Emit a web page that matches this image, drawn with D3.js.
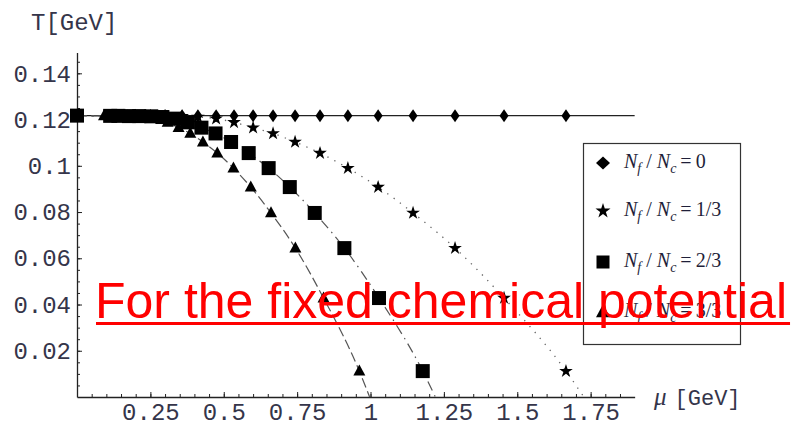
<!DOCTYPE html>
<html>
<head>
<meta charset="utf-8">
<script src="https://cdn.jsdelivr.net/npm/d3@7"></script>
<style>
  body { margin: 0; background: #fff; }
</style>
</head>
<body>
<div id="chart"></div>
<script>
// setting up svg
var svgWidth = 796;
var svgHeight = 421;

// chemical potential values [GeV], one list per series
var muDiamond  = [0, 0.160, 0.200, 0.250, 0.300, 0.358, 0.412, 0.474, 0.535, 0.600, 0.668, 0.743, 0.828, 0.923, 1.026, 1.145, 1.288, 1.455, 1.666];
var muStar     = [0, 0.160, 0.200, 0.250, 0.300, 0.358, 0.412, 0.474, 0.535, 0.600, 0.668, 0.743, 0.828, 0.923, 1.026, 1.145, 1.288, 1.455, 1.666];
var muSquare   = [0, 0.113, 0.141, 0.177, 0.212, 0.253, 0.291, 0.335, 0.378, 0.424, 0.472, 0.525, 0.585, 0.653, 0.725, 0.810, 0.911, 1.029, 1.178];
var muTriangle = [0, 0.092, 0.115, 0.144, 0.173, 0.207, 0.238, 0.274, 0.309, 0.346, 0.386, 0.429, 0.478, 0.533, 0.592, 0.661, 0.744, 0.840, 0.962];

// temperatures [GeV]; the three falling curves sit at the same heights
var tDiamond  = 0.1217;
var tFalling  = [0.1217, 0.1216, 0.1216, 0.1215, 0.1215, 0.1214, 0.1211, 0.1204, 0.1188, 0.1165, 0.1140, 0.1103, 0.1055, 0.0990, 0.0908, 0.0796, 0.0644, 0.0428, 0.0112];

// where each fitted curve reaches T = 0
var muEndStar = 1.727;
var muEndSquare = 1.221;
var muEndTriangle = 0.997;

// axes
var muMax = 1.9;
var tMax = 0.149;
var xTicks = [0.25, 0.5, 0.75, 1, 1.25, 1.5, 1.75];
var yTicks = [0.02, 0.04, 0.06, 0.08, 0.1, 0.12, 0.14];

var legendLabels = ["0", "1/3", "2/3", "3/3"];

var svg = d3.select("#chart")
  .append("svg")
    .attr("width", svgWidth)
    .attr("height", svgHeight);

var x = d3.scaleLinear().domain([0, muMax]).range([77, 77 + muMax * 293.5]);
var y = d3.scaleLinear().domain([0, tMax]).range([397, 397 - tMax * 2312]);

var monoFont = "'Liberation Mono', 'DejaVu Sans Mono', monospace";
var serifFont = "'Liberation Serif', 'DejaVu Serif', serif";
var labelColor = "#35354a";

// minor ticks
var yMinor = d3.range(0.005, tMax, 0.005);
var xMinor = d3.range(0.05, muMax, 0.05);

svg.append("g")
    .attr("transform", `translate(${x(0)},0)`)
    .call(d3.axisLeft(y).tickValues(yMinor).tickSize(-3).tickSizeOuter(0).tickFormat(""))
    .call(g => g.select(".domain").remove())
    .selectAll("line").attr("stroke", "#222");

svg.append("g")
    .attr("transform", `translate(0,${y(0)})`)
    .call(d3.axisBottom(x).tickValues(xMinor).tickSize(-3).tickSizeOuter(0).tickFormat(""))
    .call(g => g.select(".domain").remove())
    .selectAll("line").attr("stroke", "#222");

// major axes
var leftAxisG = svg.append("g")
    .attr("transform", `translate(${x(0)},0)`)
    .call(d3.axisLeft(y).tickValues(yTicks).tickSize(-5).tickSizeOuter(0)
      .tickPadding(6).tickFormat(d3.format("~g")));

var bottomAxisG = svg.append("g")
    .attr("transform", `translate(0,${y(0)})`)
    .call(d3.axisBottom(x).tickValues(xTicks).tickSize(-5).tickSizeOuter(0)
      .tickPadding(6).tickFormat(d3.format("~g")));

[leftAxisG, bottomAxisG].forEach(g => {
  g.select(".domain").attr("stroke", "#222").attr("stroke-width", 1.3);
  g.selectAll("line").attr("stroke", "#222");
  g.selectAll("text")
    .attr("font-family", monoFont)
    .attr("font-size", 24)
    .attr("fill", labelColor);
});

// axis titles
svg.append("text")
    .attr("x", 31)
    .attr("y", 30)
    .attr("font-family", monoFont)
    .attr("font-size", 24)
    .attr("fill", labelColor)
    .text("T[GeV]");

var muLabel = svg.append("text")
    .attr("x", 654)
    .attr("y", 405)
    .attr("fill", labelColor);
muLabel.append("tspan")
    .attr("font-family", serifFont)
    .attr("font-style", "italic")
    .attr("font-size", 25)
    .text("\u03bc");
muLabel.append("tspan")
    .attr("font-family", monoFont)
    .attr("font-size", 22)
    .attr("dx", 8)
    .text("[GeV]");

// curves
var line = d3.line()
    .x(d => x(d[0]))
    .y(d => y(d[1]))
    .curve(d3.curveMonotoneX);

var starLine = muStar.map((m, i) => [m, tFalling[i]]).concat([[muEndStar, 0]]);
var squareLine = muSquare.map((m, i) => [m, tFalling[i]]).concat([[muEndSquare, 0]]);
var triangleLine = muTriangle.map((m, i) => [m, tFalling[i]]).concat([[muEndTriangle, 0]]);

svg.append("path")
    .datum([[0, tDiamond], [muMax, tDiamond]])
    .attr("d", line)
    .attr("fill", "none")
    .attr("stroke", "#222")
    .attr("stroke-width", 1.4);

svg.append("path")
    .datum(starLine)
    .attr("d", line)
    .attr("fill", "none")
    .attr("stroke", "#666")
    .attr("stroke-width", 1.3)
    .attr("stroke-dasharray", "1.3,6.5");

svg.append("path")
    .datum(squareLine)
    .attr("d", line)
    .attr("fill", "none")
    .attr("stroke", "#555")
    .attr("stroke-width", 1.2)
    .attr("stroke-dasharray", "10,5,1.5,5");

svg.append("path")
    .datum(triangleLine)
    .attr("d", line)
    .attr("fill", "none")
    .attr("stroke", "#555")
    .attr("stroke-width", 1.2)
    .attr("stroke-dasharray", "10,4");

// marker shapes
var diamondPath = (w, h) => `M0,${-h}L${w},0L0,${h}L${-w},0Z`;
var starPath = d3.symbol().type(d3.symbolStar).size(58)();
var trianglePath = (w, h) => `M0,${-h * 0.6}L${w},${h * 0.4}L${-w},${h * 0.4}Z`;

svg.append("g").selectAll("path")
  .data(muDiamond)
  .enter().append("path")
    .attr("transform", d => `translate(${x(d)},${y(tDiamond)})`)
    .attr("d", diamondPath(4.5, 6.5))
    .attr("fill", "#000");

svg.append("g").selectAll("path")
  .data(muStar)
  .enter().append("path")
    .attr("transform", (d, i) => `translate(${x(d)},${y(tFalling[i])})`)
    .attr("d", starPath)
    .attr("fill", "#000");

svg.append("g").selectAll("rect")
  .data(muSquare)
  .enter().append("rect")
    .attr("x", d => x(d) - 7)
    .attr("y", (d, i) => y(tFalling[i]) - 7)
    .attr("width", 14)
    .attr("height", 14)
    .attr("fill", "#000");

svg.append("g").selectAll("path")
  .data(muTriangle)
  .enter().append("path")
    .attr("transform", (d, i) => `translate(${x(d)},${y(tFalling[i])})`)
    .attr("d", trianglePath(6, 11))
    .attr("fill", "#000");

// legend
var legend = svg.append("g");
legend.append("rect")
    .attr("x", 583.5)
    .attr("y", 143.5)
    .attr("width", 157)
    .attr("height", 201)
    .attr("fill", "#fff")
    .attr("stroke", "#333")
    .attr("stroke-width", 1.2);

var rowY = [163, 211, 262, 312];
var legendMarks = [
  g => g.append("path").attr("d", diamondPath(7, 6.5)),
  g => g.append("path").attr("d", d3.symbol().type(d3.symbolStar).size(70)()),
  g => g.append("rect").attr("x", -6.5).attr("y", -6.5).attr("width", 13).attr("height", 13),
  g => g.append("path").attr("d", trianglePath(7, 13))
];

legendLabels.forEach((lab, i) => {
  var mg = legend.append("g")
      .attr("transform", `translate(603,${rowY[i]})`)
      .attr("fill", "#000");
  legendMarks[i](mg);

  var t = legend.append("text")
      .attr("x", 624)
      .attr("y", rowY[i] + 5)
      .attr("font-family", serifFont)
      .attr("font-size", 20)
      .attr("fill", "#1f1f3a");
  t.append("tspan").attr("font-style", "italic").text("N");
  t.append("tspan").attr("font-style", "italic").attr("font-size", 14).attr("dy", 5).text("f");
  t.append("tspan").attr("dy", -5).text(" / ");
  t.append("tspan").attr("font-style", "italic").text("N");
  t.append("tspan").attr("font-style", "italic").attr("font-size", 14).attr("dy", 5).text("c");
  t.append("tspan").attr("dy", -5).text("\u2009=\u2009" + lab);
});

// red overlay caption
var caption = svg.append("text")
    .attr("x", 95)
    .attr("y", 318)
    .attr("font-family", "'Liberation Sans', Arial, sans-serif")
    .attr("font-size", 50)
    .attr("fill", "#ff0000")
    .text("For the fixed chemical potential");

var capLen = caption.node().getComputedTextLength();
svg.append("line")
    .attr("x1", 96)
    .attr("x2", 98 + capLen)
    .attr("y1", 323.5)
    .attr("y2", 323.5)
    .attr("stroke", "#ff0000")
    .attr("stroke-width", 3);
</script>
</body>
</html>
